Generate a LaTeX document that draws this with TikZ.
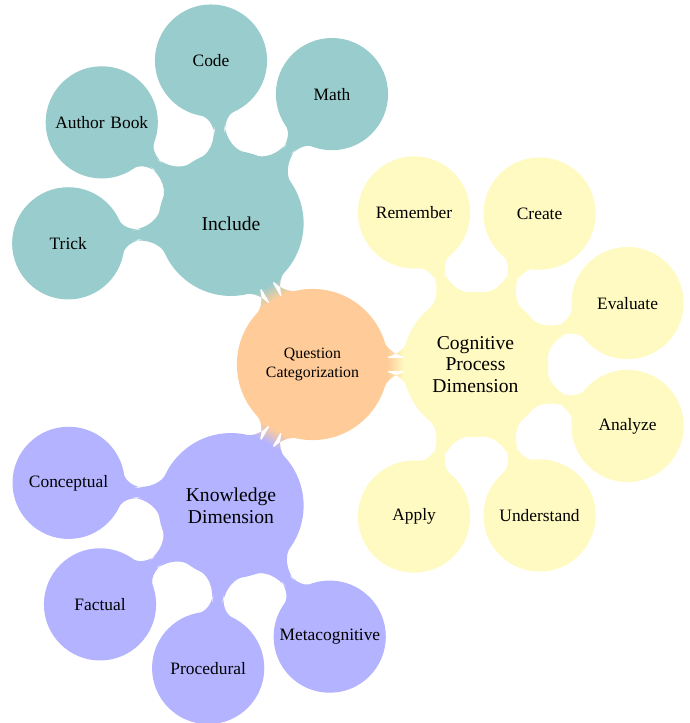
\documentclass[tikz,border=0pt]{standalone}
\usepackage{fontspec}
\setmainfont{Liberation Serif}
\usetikzlibrary{mindmap}
\definecolor{incl}{RGB}{153,204,204}
\definecolor{cogn}{RGB}{255,249,194}
\definecolor{know}{RGB}{179,179,255}
\definecolor{rootc}{RGB}{255,204,153}
\begin{document}
\begin{tikzpicture}[x=1pt,y=-1pt,mindmap,concept color=rootc,
  every node/.style={concept},
  rootstyle/.style={minimum size=150pt, text width=110pt, font=\fontsize{15.8}{19}\selectfont},
  lvlone/.style={minimum size=144pt, text width=112pt, font=\fontsize{19.6}{21.5}\selectfont},
  lvltwo/.style={minimum size=111pt, text width=100pt, font=\fontsize{17.4}{20}\selectfont},
  level 1/.append style={level distance=163pt},
  level 2/.append style={level distance=164pt}]
\useasboundingbox (0,0) rectangle (689,723);
\node[rootstyle] (root) at (312.5,364.5) {Question Categorization}
  child[grow=120, concept color=incl] { node[lvlone] (incl) {Include}
    child[grow=52.5] { node[lvltwo] (math) {Math} }
    child[grow=97.5] { node[lvltwo] (code) {Code} }
    child[grow=142.5] { node[lvltwo] (auth) {Author Book} }
    child[grow=187.5] { node[lvltwo] (trick) {Trick} }
  }
  child[grow=0, concept color=cogn] { node[lvlone] (cog) {Cognitive Process Dimension}
    child[grow=112.5] { node[lvltwo] (rem) {Remember} }
    child[grow=67.5] { node[lvltwo] (cre) {Create} }
    child[grow=22.5] { node[lvltwo] (eva) {Evaluate} }
    child[grow=-22.5] { node[lvltwo] (ana) {Analyze} }
    child[grow=-67.5] { node[lvltwo] (und) {Understand} }
    child[grow=-112.5] { node[lvltwo] (app) {Apply} }
  }
  child[grow=240, concept color=know] { node[lvlone] (know) {Knowledge Dimension}
    child[grow=172.5] { node[lvltwo] (conc) {Conceptual} }
    child[grow=217.5] { node[lvltwo] (fact) {Factual} }
    child[grow=262.5] { node[lvltwo] (proc) {Procedural} }
    child[grow=307.5] { node[lvltwo] (meta) {Metacognitive} }
  };
\end{tikzpicture}
\end{document}
